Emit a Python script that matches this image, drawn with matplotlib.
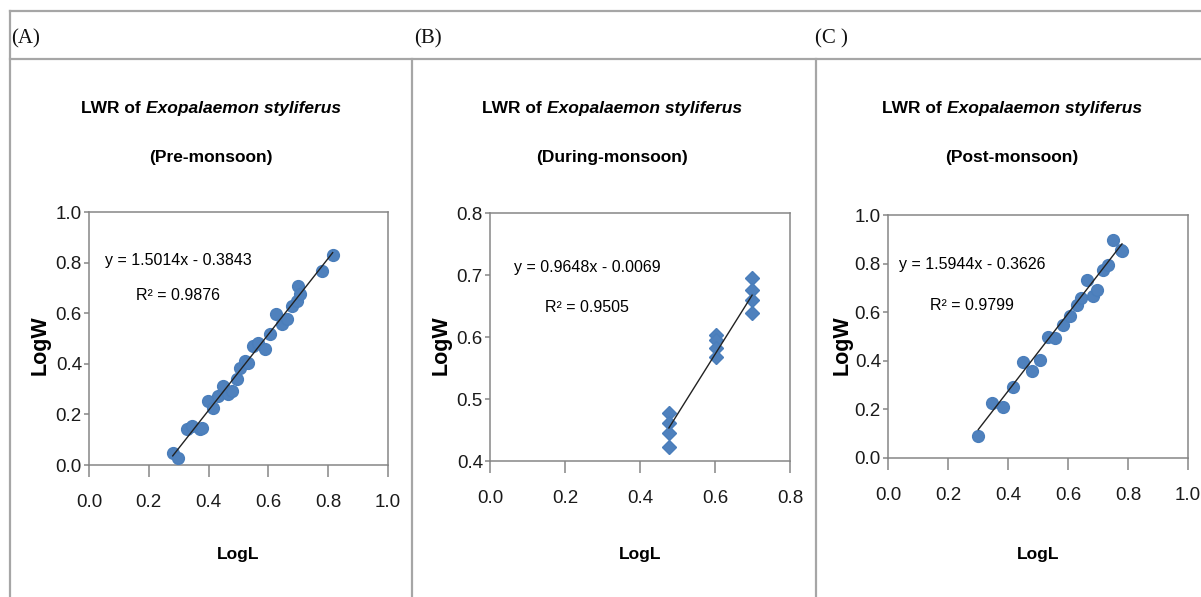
import numpy as np
import matplotlib.pyplot as plt
from matplotlib.lines import Line2D

plt.rcParams['font.family'] = ['Liberation Sans', 'DejaVu Sans']

# log length / log weight, three seasons
pre_logl = [0.280, 0.299, 0.327, 0.343, 0.371, 0.377, 0.399, 0.416, 0.433, 0.449,
            0.466, 0.477, 0.494, 0.505, 0.522, 0.533, 0.550, 0.566, 0.589, 0.605,
            0.625, 0.644, 0.661, 0.678, 0.695, 0.700, 0.706, 0.778, 0.815]
pre_logw = [0.049, 0.026, 0.141, 0.154, 0.141, 0.147, 0.253, 0.226, 0.273, 0.312,
            0.279, 0.292, 0.339, 0.385, 0.411, 0.404, 0.470, 0.483, 0.457, 0.517,
            0.596, 0.556, 0.576, 0.628, 0.648, 0.708, 0.675, 0.767, 0.830]

dur_logl = [0.477, 0.477, 0.477, 0.477, 0.602, 0.602, 0.602, 0.602,
            0.699, 0.699, 0.699, 0.699]
dur_logw = [0.477, 0.461, 0.445, 0.423, 0.603, 0.595, 0.582, 0.568,
            0.695, 0.676, 0.660, 0.638]

post_logl = [0.301, 0.346, 0.382, 0.416, 0.451, 0.479, 0.507, 0.532, 0.557, 0.582,
             0.607, 0.629, 0.642, 0.664, 0.682, 0.698, 0.718, 0.732, 0.749, 0.776, 0.780]
post_logw = [0.091, 0.226, 0.209, 0.294, 0.397, 0.356, 0.404, 0.500, 0.494, 0.548,
             0.583, 0.631, 0.659, 0.734, 0.668, 0.693, 0.775, 0.796, 0.899, 0.858, 0.852]

# regression results (slope, intercept, R^2)
slopes = [1.5014, 0.9648, 1.5944]
intercepts = [-0.3843, -0.0069, -0.3626]
r_squared = [0.9876, 0.9505, 0.9799]

seasons = ['Pre-monsoon', 'During-monsoon', 'Post-monsoon']
panel_tags = ['(A)', '(B)', '(C )']

W, H = 1201, 597
fig = plt.figure(figsize=(W / 100, H / 100), dpi=100)
fig.patch.set_facecolor('white')
renderer = fig.canvas.get_renderer()


def fx(x):
    return x / W


def fy(y):
    return 1 - y / H


def hline(y, x0, x1):
    fig.add_artist(Line2D([fx(x0), fx(x1)], [fy(y), fy(y)], color='#a6a6a6', lw=1.6,
                          transform=fig.transFigure))


def vline(x, y0, y1):
    fig.add_artist(Line2D([fx(x), fx(x)], [fy(y0), fy(y1)], color='#a6a6a6', lw=1.6,
                          transform=fig.transFigure))


# table frame
hline(11, 10, W)
hline(59, 10, W)
vline(10, 11, H)
vline(412, 59, H)
vline(816, 59, H)

for tag, xc in zip(panel_tags, [26, 428, 831]):
    fig.text(fx(xc), fy(39), tag, family='Liberation Serif', fontsize=15,
             ha='center', va='center', color='#111111')

# plot areas in pixels: left, top, right, bottom
boxes = [(89, 212, 388, 465), (490, 213, 790, 461), (888, 215, 1188, 458)]
title_x = [211, 612, 1012]
ylabel_x = [40, 441, 842]
eq_pos = [(178, 261, 295), (587, 267, 308), (972, 265, 305)]
data = [(pre_logl, pre_logw, 'o'), (dur_logl, dur_logw, 'D'), (post_logl, post_logw, 'o')]
xlims = [(0, 1.0), (0, 0.8), (0, 1.0)]
ylims = [(0, 1.0), (0.4, 0.8), (0, 1.0)]
xsteps = [0.2, 0.2, 0.2]
ysteps = [0.2, 0.1, 0.2]

title_fs = 12.5

for i in range(3):
    l, t, r, b = boxes[i]
    ax = fig.add_axes([fx(l), fy(b), (r - l) / W, (b - t) / H])
    x, y, mk = data[i]
    ax.plot(x, y, linestyle='none', marker=mk, ms=8.5 if mk == 'o' else 7.5,
            color='#4f81bd', mec='#4a7ebb', zorder=3)
    xs = np.array([min(x), max(x)])
    ax.plot(xs, slopes[i] * xs + intercepts[i], color='#222222', lw=1.0, zorder=4)

    ax.set_xlim(*xlims[i])
    ax.set_ylim(*ylims[i])
    ax.set_xticks(np.arange(xlims[i][0], xlims[i][1] + 1e-9, xsteps[i]))
    ax.set_yticks(np.arange(ylims[i][0], ylims[i][1] + 1e-9, ysteps[i]))
    ax.xaxis.set_major_formatter(plt.FormatStrFormatter('%.1f'))
    ax.yaxis.set_major_formatter(plt.FormatStrFormatter('%.1f'))
    ax.tick_params(axis='x', direction='out', length=8.6, width=1.1, color='#868686',
                   pad=12, labelsize=13.5, labelcolor='#1a1a1a')
    ax.tick_params(axis='y', direction='out', length=3.6, width=1.1, color='#868686',
                   pad=1.5, labelsize=13.5, labelcolor='#1a1a1a')
    for sp in ax.spines.values():
        sp.set_color('#868686')
        sp.set_linewidth(1.1)

    # title: plain bold part followed by the species name in bold italic
    t1 = fig.text(0, fy(113), 'LWR of', fontsize=title_fs, fontweight='bold',
                  ha='left', va='baseline')
    t2 = fig.text(0, fy(113), 'Exopalaemon styliferus', fontsize=title_fs,
                  fontweight='bold', fontstyle='italic', ha='left', va='baseline')
    w1 = t1.get_window_extent(renderer).width
    w2 = t2.get_window_extent(renderer).width
    gap = 0.28 * title_fs * 100 / 72
    x0 = title_x[i] - (w1 + gap + w2) / 2
    t1.set_x(fx(x0))
    t2.set_x(fx(x0 + w1 + gap))
    fig.text(fx(title_x[i]), fy(157), '(' + seasons[i] + ')',
             fontsize=title_fs, fontweight='bold', ha='center', va='center')

    fig.text(fx(ylabel_x[i]), fy(345), 'LogW', fontsize=15.5,
             fontweight='bold', rotation=90, ha='center', va='center')
    fig.text(fx((l + r) / 2), fy(555), 'LogL', fontsize=12.5, fontweight='bold',
             ha='center', va='center')

    ex, ey1, ey2 = eq_pos[i]
    fig.text(fx(ex), fy(ey1), f'y = {slopes[i]:.4f}x - {abs(intercepts[i]):.4f}',
             fontsize=11.5, ha='center', va='center')
    fig.text(fx(ex), fy(ey2), f'R² = {r_squared[i]:.4f}',
             fontsize=11.5, ha='center', va='center')

fig.savefig('out.png', dpi=100)
plt.close(fig)
